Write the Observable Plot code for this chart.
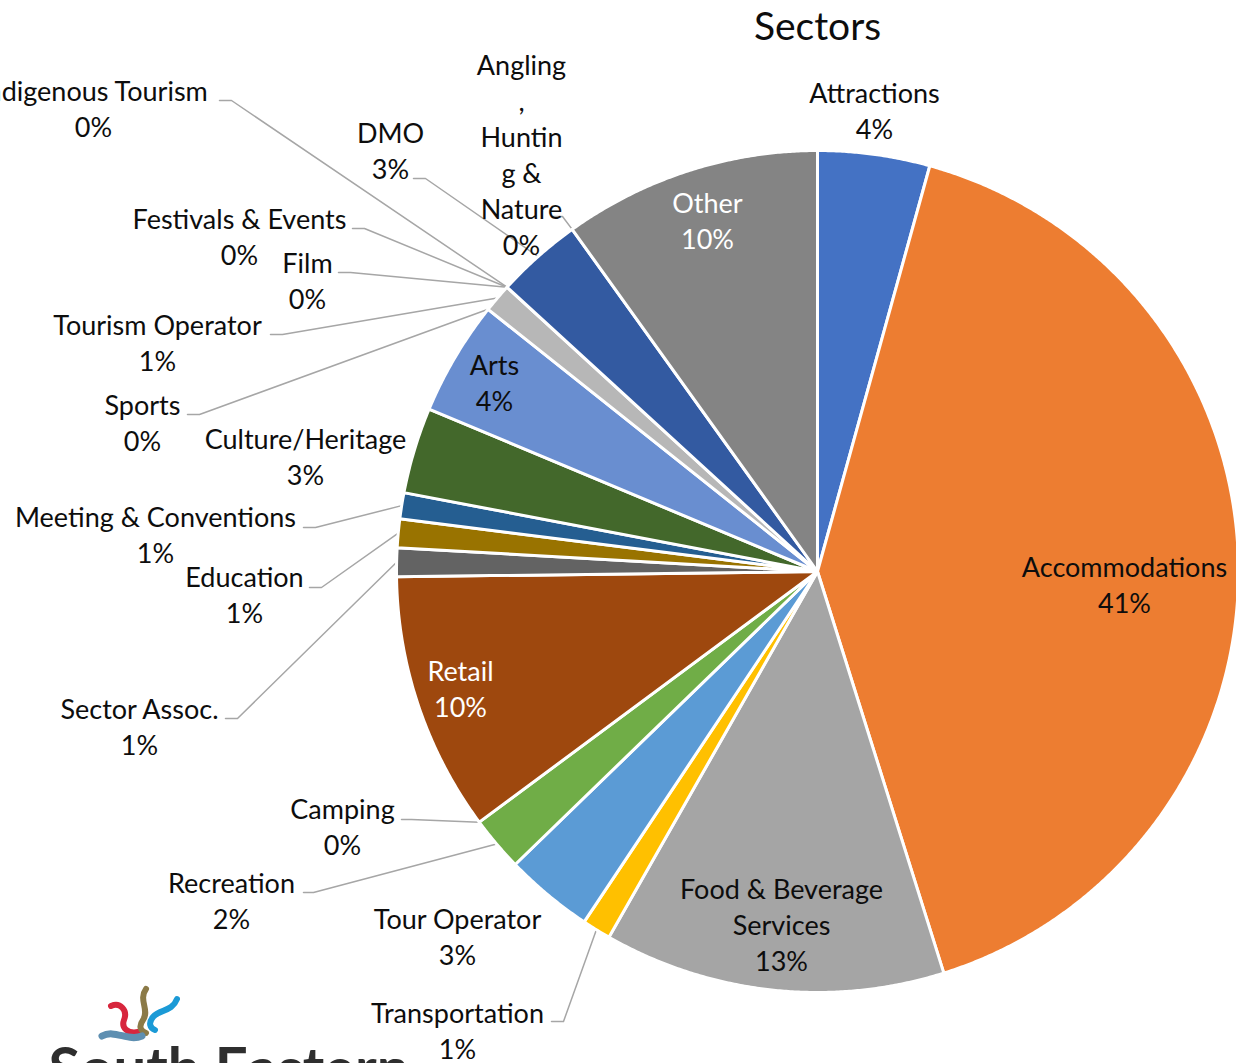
<!DOCTYPE html>
<html><head><meta charset="utf-8">
<script src="https://cdn.jsdelivr.net/npm/d3@7"></script>
<script src="https://cdn.jsdelivr.net/npm/@observablehq/plot@0.6"></script>
<style>
html,body{margin:0;padding:0;background:#fff;overflow:hidden}
#wrap{position:relative;width:1236px;height:1063px;overflow:hidden}
#logo{position:absolute;left:0;top:0;pointer-events:none}
</style>
</head><body><div id="wrap"></div>
<script>
// ---- data ----
const names = ["Attractions","Accommodations","Food & Beverage Services","Transportation","Tour Operator","Recreation","Camping","Retail","Sector Assoc.","Education","Meeting & Conventions","Culture/Heritage","Arts","Sports","Tourism Operator","Film","Festivals & Events","Indigenous Tourism","DMO","Angling, Hunting & Nature","Other"];
const values = [4.3, 40.85, 13.1, 1.1, 3.4, 2.1, 0, 9.95, 1.1, 1.1, 1.0, 3.3, 4.4, 0, 1.1, 0, 0, 0, 3.3, 0, 9.9];
const labelLines = ["Attractions","Accommodations","Food & Beverage\nServices","Transportation","Tour Operator","Recreation","Camping","Retail","Sector Assoc.","Education","Meeting & Conventions","Culture/Heritage","Arts","Sports","Tourism Operator","Film","Festivals & Events","Indigenous Tourism","DMO","Angling\n,\nHuntin\ng &\nNature","Other"];
const colors = ["#4472C4","#ED7D31","#A5A5A5","#FFC000","#5B9BD5","#70AD47","#264478","#9E480E","#636363","#997300","#255E91","#43682B","#698ED0","#F1975A","#B7B7B7","#FFCD33","#7CAFDD","#8CC168","#335AA1","#C55A11","#848484"];
const title = "Sectors";

// ---- layout (label placement, as in the original) ----
const pie = {cx: 817, cy: 571, r: 421};
const labelPos = [[874,111],[1124,585],[781,925],[457,1031],[457,937],[231,901],[342,827],[460,689],[139,727],[244,595],[155,535],[305,457],[494,383],[142,423],[157,343],[307,281],[239,237],[93,109],[390,151],[521,155],[707,221]];
const labelWhite = ["Retail","Other"];
// leader elbows: [x start, x elbow, y]
const leaders = {3:[551,563,1021],5:[303,313,892],6:[401,411,819],8:[225,237,718],9:[309,321,587],10:[303,315,527],13:[187,199,414],14:[270,282,334],15:[338,350,272],16:[352,364,228],17:[219,231,100],18:[413,425,178],19:[552,562,216]};

// ---- geometry from values ----
const arcs = d3.pie().sort(null).value(d => d)(values);
const pt = a => [pie.cx + pie.r*Math.sin(a), pie.cy - pie.r*Math.cos(a)];
const slicePts = [];
arcs.forEach((a, i) => {
  if (values[i] <= 0) return;
  slicePts.push({name: names[i], x: pie.cx, y: pie.cy});
  const n = Math.max(2, Math.ceil((a.endAngle - a.startAngle) / 0.005));
  for (let k = 0; k <= n; k++) {
    const t = a.startAngle + (a.endAngle - a.startAngle) * k / n;
    const [x, y] = pt(t);
    slicePts.push({name: names[i], x, y});
  }
});
const leaderPts = [];
Object.entries(leaders).forEach(([i, [x0, x1, y]]) => {
  const a = arcs[i];
  const [ex, ey] = pt((a.startAngle + a.endAngle) / 2);
  leaderPts.push({id: i, x: x0, y}, {id: i, x: x1, y}, {id: i, x: ex, y: ey});
});
const labels = names.map((n, i) => ({
  name: n, x: labelPos[i][0], y: labelPos[i][1],
  text: labelLines[i] + "\n" + Math.round(values[i]) + "%",
  white: labelWhite.includes(n)
}));

const chart = Plot.plot({
  width: 1236, height: 1063, margin: 0,
  x: {domain: [0, 1236], range: [0, 1236], axis: null},
  y: {domain: [0, 1063], range: [0, 1063], axis: null},
  color: {domain: names, range: colors},
  style: {fontFamily: "Lato, 'Open Sans', sans-serif", background: "#fff", overflow: "hidden"},
  marks: [
    Plot.line(leaderPts, {x: "x", y: "y", z: "id", stroke: "#A6A6A6", strokeWidth: 1.5}),
    Plot.line(slicePts, {x: "x", y: "y", z: "name", fill: "name", stroke: "#fff", strokeWidth: 3, curve: "linear-closed", strokeLinejoin: "round"}),
    Plot.text(labels, {x: "x", y: "y", dy: -2, text: "text", fill: d => d.white ? "#ffffff" : "#0d0d0d", fontSize: 27, lineHeight: 1.33}),
    Plot.text([title], {x: 817, y: 27, text: d => d, fontSize: 39, fill: "#0d0d0d"}),
    Plot.text(["South Eastern"], {x: 48, y: 1047, text: d => d, textAnchor: "start", lineAnchor: "top", fontSize: 58, fontWeight: "bold", fill: "#2e2e2e"})
  ]
});
const wrap = document.getElementById("wrap");
wrap.appendChild(chart);
wrap.insertAdjacentHTML("beforeend", `<svg id="logo" width="1236" height="1063" viewBox="0 0 1236 1063">
<path d="M111,1006 C120,1002 128,1010 124,1020 C121,1028 128,1034 138,1032" fill="none" stroke="#D7263D" stroke-width="6" stroke-linecap="round"/>
<path d="M146,989 C138,1000 150,1010 143,1020 C138,1027 141,1031 146,1033" fill="none" stroke="#8B7A47" stroke-width="6" stroke-linecap="round"/>
<path d="M177,999 C172,1012 160,1009 153,1017 C148,1023 150,1028 155,1030" fill="none" stroke="#1B9AD6" stroke-width="6" stroke-linecap="round"/>
<path d="M102,1036 C115,1029 128,1042 142,1036" fill="none" stroke="#5E8FB1" stroke-width="7" stroke-linecap="round"/>
</svg>`);
</script></body></html>
